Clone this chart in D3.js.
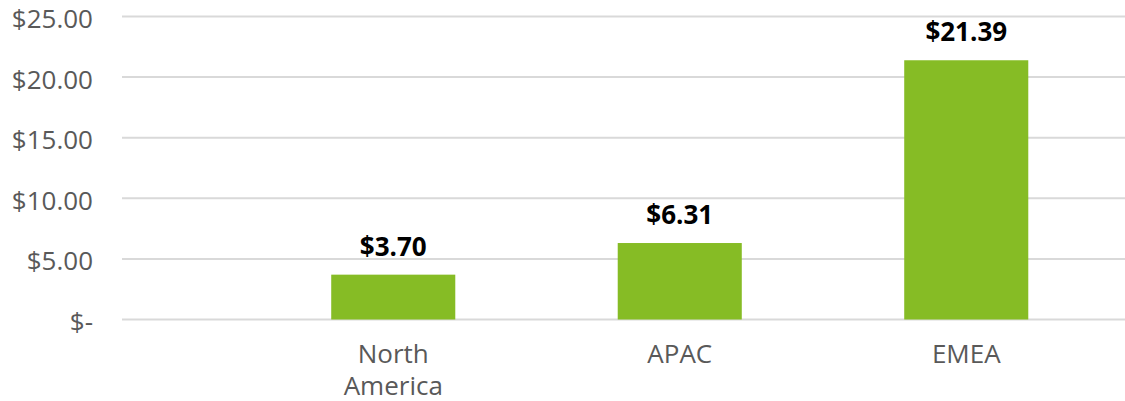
<!DOCTYPE html>
<html>
<head>
<meta charset="utf-8">
<script src="https://cdn.jsdelivr.net/npm/d3@7"></script>
<style>
  html, body { margin: 0; padding: 0; background: #fff; }
  svg { display: block; font-family: "Open Sans", sans-serif; }
</style>
</head>
<body>
<svg id="chart" width="1125" height="401"></svg>
<script>
// Average value by region
const regions = ["North America", "APAC", "EMEA"];
const values = [3.70, 6.31, 21.39];
const yTicks = [0, 5, 10, 15, 20, 25];

const svg = d3.select("#chart");
const W = 1125;

const x = d3.scaleBand()
  .domain(regions)
  .range([250, 1109.5])
  .paddingInner(0.567)
  .paddingOuter(0.2835);

const y = d3.scaleLinear()
  .domain([0, 25])
  .range([319.5, 16.5]);

const money = v => v === 0 ? "$-" : "$" + v.toFixed(2);

// Horizontal gridlines
svg.append("g")
  .selectAll("line")
  .data(yTicks)
  .join("line")
  .attr("x1", 122)
  .attr("x2", W)
  .attr("y1", d => y(d))
  .attr("y2", d => y(d))
  .attr("stroke", "#d9d9d9")
  .attr("stroke-width", 2);

// Y axis labels
const yAxis = d3.axisLeft(y).tickValues(yTicks).tickFormat(money).tickSize(0).tickPadding(0);
const gy = svg.append("g").attr("transform", "translate(93,0)").call(yAxis);
gy.select(".domain").remove();
gy.selectAll("text")
  .attr("dy", "0.42em")
  .attr("fill", "#595959")
  .style("font-family", "'Open Sans', sans-serif")
  .style("font-size", "26px");

// Bars
svg.append("g")
  .selectAll("rect")
  .data(values)
  .join("rect")
  .attr("x", (d, i) => x(regions[i]))
  .attr("width", x.bandwidth())
  .attr("y", d => y(d))
  .attr("height", d => y(0) - y(d))
  .attr("fill", "#86bc25");

// Value labels
svg.append("g")
  .selectAll("text")
  .data(values)
  .join("text")
  .attr("x", (d, i) => x(regions[i]) + x.bandwidth() / 2)
  .attr("y", d => y(d) - 19)
  .attr("text-anchor", "middle")
  .attr("fill", "#000")
  .style("font-size", "26px")
  .style("font-weight", "700")
  .text(d => money(d));

// Category labels (wrapped)
const lines = {"North America": ["North", "America"], "APAC": ["APAC"], "EMEA": ["EMEA"]};
const gx = svg.append("g");
regions.forEach(r => {
  const t = gx.append("text")
    .attr("x", x(r) + x.bandwidth() / 2)
    .attr("y", 363)
    .attr("text-anchor", "middle")
    .attr("fill", "#595959")
    .style("font-size", "26px");
  lines[r].forEach((l, i) => {
    t.append("tspan")
      .attr("x", x(r) + x.bandwidth() / 2)
      .attr("dy", i === 0 ? 0 : 32)
      .text(l);
  });
});
</script>
</body>
</html>
